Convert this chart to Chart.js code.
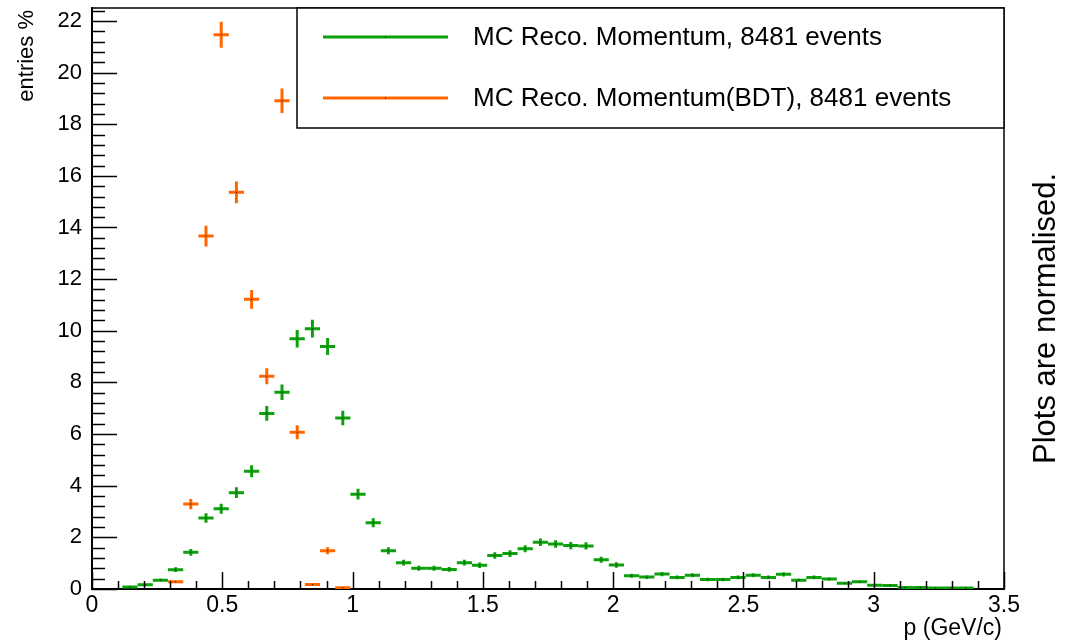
<!DOCTYPE html>
<html>
<head>
<meta charset="utf-8">
<script src="https://cdn.jsdelivr.net/npm/chart.js@4.4.0/dist/chart.umd.min.js"></script>
<style>
  html, body { margin: 0; padding: 0; background: #fff; }
</style>
</head>
<body>
<canvas id="canvas" width="1068" height="642"></canvas>
<script>
// histogram binning (p in GeV/c)
var nEvents = 8481;
var pMin = 0, pMax = 3.5, nBins = 60;

// entries % per bin
var recoMomentum = [
  0, 0, 0.08, 0.16, 0.34, 0.75, 1.42, 2.75, 3.11, 3.73,
  4.56, 6.80, 7.62, 9.69, 10.08, 9.39, 6.62, 3.67, 2.57, 1.48,
  1.02, 0.80, 0.80, 0.76, 1.02, 0.92, 1.30, 1.37, 1.56, 1.81,
  1.74, 1.68, 1.67, 1.13, 0.93, 0.51, 0.46, 0.58, 0.45, 0.53,
  0.37, 0.37, 0.45, 0.53, 0.45, 0.57, 0.34, 0.45, 0.39, 0.22,
  0.28, 0.15, 0.14, 0.06, 0.06, 0.04, 0.04, 0.04, 0, 0
];
var recoMomentumBDT = [
  0, 0, 0, 0, 0, 0.28, 3.29, 13.67, 21.46, 15.36,
  11.22, 8.24, 18.91, 6.07, 0.17, 1.48, 0.05, 0, 0, 0,
  0, 0, 0, 0, 0, 0, 0, 0, 0, 0,
  0, 0, 0, 0, 0, 0, 0, 0, 0, 0,
  0, 0, 0, 0, 0, 0, 0, 0, 0, 0,
  0, 0, 0, 0, 0, 0, 0, 0, 0, 0
];

var seriesLabels = ["MC Reco. Momentum, 8481 events", "MC Reco. Momentum(BDT), 8481 events"];
var seriesColors = ["#0ca00c", "#ff6600"];

var xTickValues = [0, 0.5, 1, 1.5, 2, 2.5, 3, 3.5];
var yTickValues = [0, 2, 4, 6, 8, 10, 12, 14, 16, 18, 20, 22];
var xTitle = "p (GeV/c)";
var yTitle = "entries %";
var sideNote = "Plots are normalised.";

var FONT = "'Liberation Sans', Arial, sans-serif";
var binW = (pMax - pMin) / nBins;

function toPoints(vals){
  return vals.map(function(v, i){
    return { x: pMin + (i + 0.5) * binW, y: v };
  });
}

// error bars: bin width horizontally, statistical error vertically
var histBars = {
  id: 'histBars',
  afterDatasetsDraw: function(chart){
    var ctx = chart.ctx, xs = chart.scales.x, ys = chart.scales.y, a = chart.chartArea;
    ctx.save();
    ctx.beginPath();
    ctx.rect(a.left, a.top, a.right - a.left, a.bottom - a.top);
    ctx.clip();
    chart.data.datasets.forEach(function(ds){
      ctx.strokeStyle = ds.borderColor;
      ctx.lineWidth = 3;
      ds.data.forEach(function(p){
        if (!p.y) return;
        var err = Math.sqrt(p.y / 100 * nEvents) / nEvents * 100;
        var cx = xs.getPixelForValue(p.x), cy = ys.getPixelForValue(p.y);
        ctx.beginPath();
        ctx.moveTo(xs.getPixelForValue(p.x - binW / 2), cy);
        ctx.lineTo(xs.getPixelForValue(p.x + binW / 2), cy);
        ctx.moveTo(cx, ys.getPixelForValue(p.y - err));
        ctx.lineTo(cx, ys.getPixelForValue(p.y + err));
        ctx.stroke();
        ctx.fillStyle = '#000';
        ctx.fillRect(cx - 0.5, cy - 0.5, 1, 1);
      });
    });
    ctx.restore();
  }
};

// ROOT-like frame: inward ticks, frame, titles, legend box
var rootFrame = {
  id: 'rootFrame',
  afterDraw: function(chart){
    var ctx = chart.ctx, xs = chart.scales.x, ys = chart.scales.y, a = chart.chartArea;
    var v, px;
    ctx.save();
    ctx.strokeStyle = '#000';
    ctx.lineWidth = 1.5;
    ctx.beginPath();
    ctx.moveTo(a.left, a.top);
    ctx.lineTo(a.right, a.top);
    ctx.lineTo(a.right, a.bottom);
    ctx.stroke();

    ctx.lineWidth = 1.5;
    ctx.beginPath();
    for (v = 0; v <= ys.max + 1e-6; v += 0.4) {
      px = Math.round(ys.getPixelForValue(v)) + 0.5;
      var major = Math.abs(v / 2 - Math.round(v / 2)) < 1e-6;
      ctx.moveTo(a.left, px);
      ctx.lineTo(a.left + (major ? 25 : 13), px);
    }
    for (v = 0; v <= xs.max + 1e-6; v += 0.1) {
      px = Math.round(xs.getPixelForValue(v)) + 0.5;
      var majorX = Math.abs(v / 0.5 - Math.round(v / 0.5)) < 1e-6;
      ctx.moveTo(px, a.bottom);
      ctx.lineTo(px, a.bottom - (majorX ? 17 : 8));
    }
    ctx.stroke();

    ctx.fillStyle = '#000';
    ctx.font = '23px ' + FONT;
    ctx.textAlign = 'right';
    ctx.textBaseline = 'alphabetic';
    ctx.fillText(xTitle, a.right - 2, 635);

    ctx.save();
    ctx.translate(33, a.top + 2);
    ctx.rotate(-Math.PI / 2);
    ctx.font = '22px ' + FONT;
    ctx.textAlign = 'right';
    ctx.fillText(yTitle, 0, 0);
    ctx.restore();

    ctx.save();
    ctx.translate(1055, 464);
    ctx.rotate(-Math.PI / 2);
    ctx.font = '31px ' + FONT;
    ctx.textAlign = 'left';
    ctx.fillText(sideNote, 0, 0);
    ctx.restore();

    // legend
    var lx = a.left + 205, ly = a.top, lw = a.right - lx, lh = 120;
    ctx.fillStyle = '#fff';
    ctx.fillRect(lx, ly, lw, lh);
    ctx.strokeStyle = '#000';
    ctx.lineWidth = 1.5;
    ctx.strokeRect(lx, ly, lw, lh);
    ctx.font = '26px ' + FONT;
    ctx.textAlign = 'left';
    ctx.textBaseline = 'middle';
    chart.data.datasets.forEach(function(ds, k){
      var yy = ly + 29 + k * 61;
      ctx.strokeStyle = ds.borderColor;
      ctx.lineWidth = 3;
      ctx.beginPath();
      ctx.moveTo(lx + 26, yy);
      ctx.lineTo(lx + 151, yy);
      ctx.stroke();
      ctx.fillStyle = '#000';
      ctx.fillRect(lx + 88, yy - 0.5, 1, 1);
      ctx.fillText(ds.label, lx + 176, yy + 1);
    });
    ctx.restore();
  }
};

Chart.defaults.font.family = FONT;
Chart.defaults.color = '#000';

new Chart(document.getElementById("canvas"), {
  type: 'scatter',
  data: {
    datasets: [
      { label: seriesLabels[0], data: toPoints(recoMomentum), borderColor: seriesColors[0], backgroundColor: seriesColors[0], pointRadius: 0, showLine: false },
      { label: seriesLabels[1], data: toPoints(recoMomentumBDT), borderColor: seriesColors[1], backgroundColor: seriesColors[1], pointRadius: 0, showLine: false }
    ]
  },
  options: {
    responsive: false,
    animation: false,
    layout: { padding: { top: 8, right: 64, left: 0, bottom: 0 } },
    plugins: { legend: { display: false }, tooltip: { enabled: false } },
    scales: {
      x: {
        type: 'linear', min: pMin, max: pMax,
        grid: { display: false, drawTicks: false },
        border: { display: true, color: '#000', width: 2 },
        afterBuildTicks: function(s){ s.ticks = xTickValues.map(function(v){ return { value: v }; }); },
        afterFit: function(s){ s.height = 53; s.paddingLeft = 0; s.paddingRight = 0; },
        ticks: { font: { size: 23 }, padding: 3, maxRotation: 0, autoSkip: false,
          callback: function(v){ return String(v); } }
      },
      y: {
        type: 'linear', min: 0, max: 22.5,
        grid: { display: false, drawTicks: false },
        border: { display: true, color: '#000', width: 2 },
        afterBuildTicks: function(s){ s.ticks = yTickValues.map(function(v){ return { value: v }; }); },
        afterFit: function(s){ s.width = 92; s.paddingTop = 0; s.paddingBottom = 0; },
        ticks: { font: { size: 22 }, padding: 10, autoSkip: false,
          callback: function(v){ return String(v); } }
      }
    }
  },
  plugins: [histBars, rootFrame]
});
</script>
</body>
</html>
